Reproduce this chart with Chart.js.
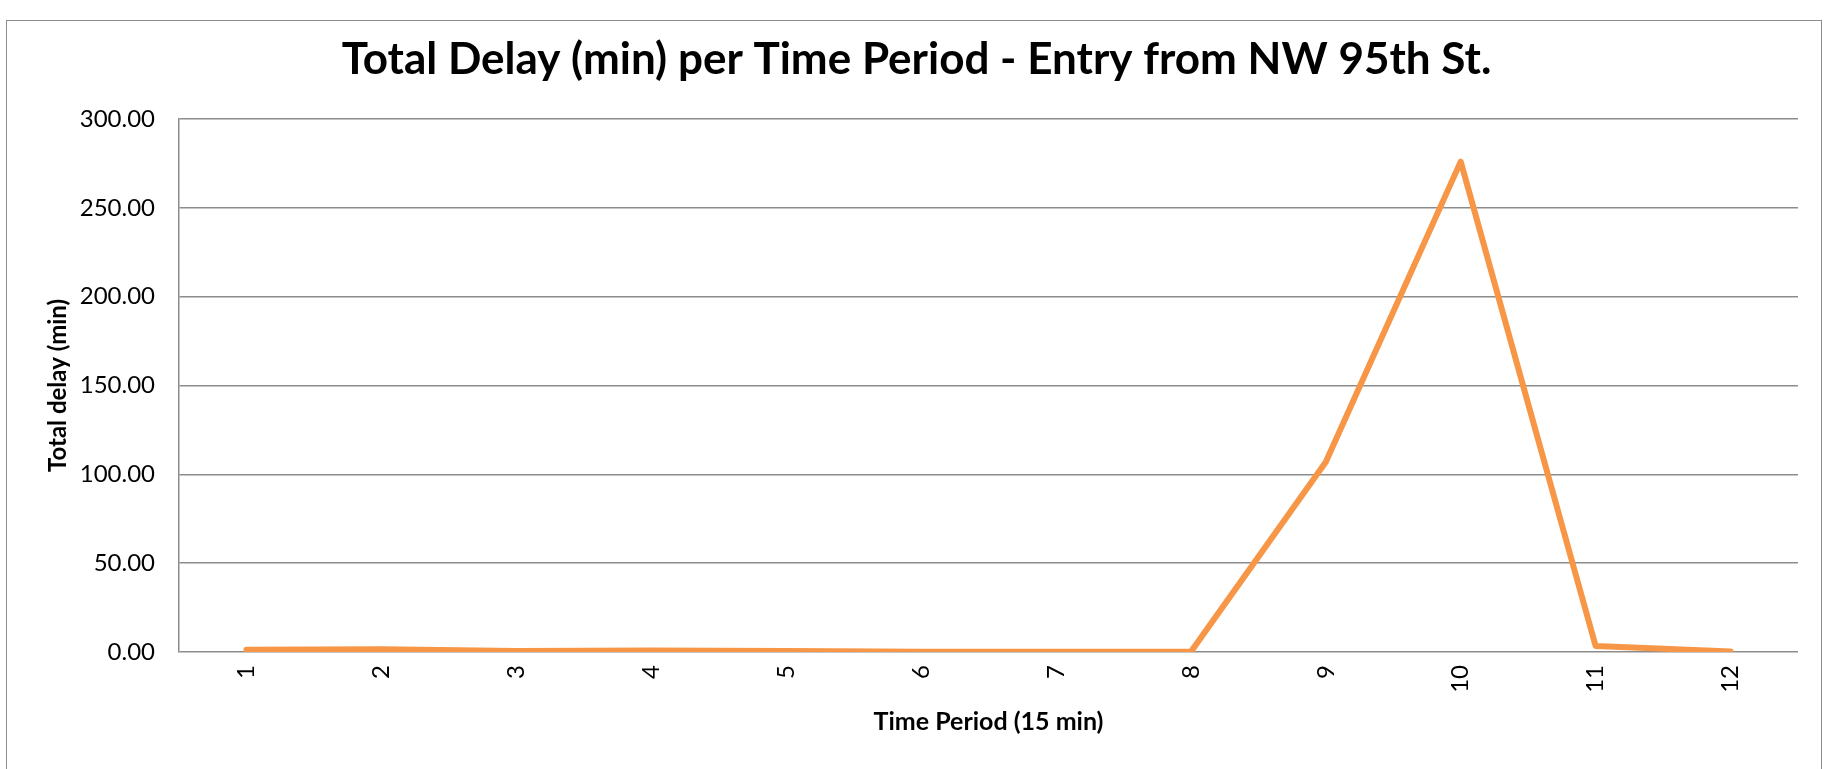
<!DOCTYPE html>
<html>
<head>
<meta charset="utf-8">
<script src="https://cdn.jsdelivr.net/npm/chart.js@4.4.1/dist/chart.umd.min.js"></script>
<style>
  html, body { margin: 0; padding: 0; background: #ffffff; }
  #wrap { position: relative; width: 1827px; height: 769px; overflow: hidden; }
  #c { position: absolute; left: 0; top: 0; }
  #frame {
    position: absolute; left: 6px; top: 20px; width: 1814px; height: 800px;
    border: 1.5px solid #8c8c8c; pointer-events: none;
  }
</style>
</head>
<body>
<div id="wrap">
  <canvas id="c" width="1827" height="769"></canvas>
  <div id="frame"></div>
</div>
<script>
// Time periods (15 min each) and total delay per period, in minutes
const periods = ['1', '2', '3', '4', '5', '6', '7', '8', '9', '10', '11', '12'];
const totalDelay = [1.2, 1.6, 0.6, 0.9, 0.6, 0.2, 0.2, 0.1, 107.0, 276.0, 3.4, 0.3];
const yTicks = [0, 50, 100, 150, 200, 250, 300];

const FONT = "Lato, 'Open Sans', 'DejaVu Sans', sans-serif";
const GRID = '#8c8c8c';

new Chart(document.getElementById('c'), {
  type: 'line',
  data: {
    labels: periods,
    datasets: [{
      label: 'Total delay (min)',
      data: totalDelay,
      borderColor: '#F79646',
      backgroundColor: '#F79646',
      borderWidth: 6,
      borderCapStyle: 'round',
      borderJoinStyle: 'round',
      pointRadius: 0,
      tension: 0,
      fill: false
    }]
  },
  options: {
    responsive: false,
    animation: false,
    layout: { padding: { left: 35, right: 29, top: 0, bottom: 0 } },
    plugins: {
      legend: { display: false },
      tooltip: { enabled: false },
      title: {
        display: true,
        text: 'Total Delay (min) per Time Period - Entry from NW 95th St.',
        color: '#000000',
        font: { family: FONT, size: 44, weight: 'bold', lineHeight: 1.2 },
        padding: { top: 33.6, bottom: 32.6 }
      }
    },
    scales: {
      x: {
        offset: true,
        grid: { display: false, drawTicks: false },
        border: { display: false },
        ticks: {
          color: '#000000',
          font: { family: FONT, size: 24 },
          minRotation: 90,
          maxRotation: 90,
          padding: 13,
          autoSkip: false
        },
        title: {
          display: true,
          text: 'Time Period (15 min)',
          color: '#000000',
          font: { family: FONT, size: 25, weight: 'bold', lineHeight: 1.2 },
          padding: { top: 0, bottom: 32 }
        },
        afterFit: (scale) => { scale.height = 117; }
      },
      y: {
        min: 0,
        max: 300,
        grid: { color: GRID, lineWidth: 1.5, drawTicks: false },
        border: { display: true, color: GRID, width: 1.5 },
        afterBuildTicks: (scale) => { scale.ticks = yTicks.map(v => ({ value: v })); },
        ticks: {
          color: '#000000',
          font: { family: FONT, size: 24 },
          padding: 24,
          callback: (v) => Number(v).toFixed(2)
        },
        title: {
          display: true,
          text: 'Total delay (min)',
          color: '#000000',
          font: { family: FONT, size: 24, weight: 'bold', lineHeight: 1.2 },
          padding: { top: 8.6, bottom: 0 }
        },
        afterFit: (scale) => { scale.width = 144; }
      }
    }
  }
});
</script>
</body>
</html>
